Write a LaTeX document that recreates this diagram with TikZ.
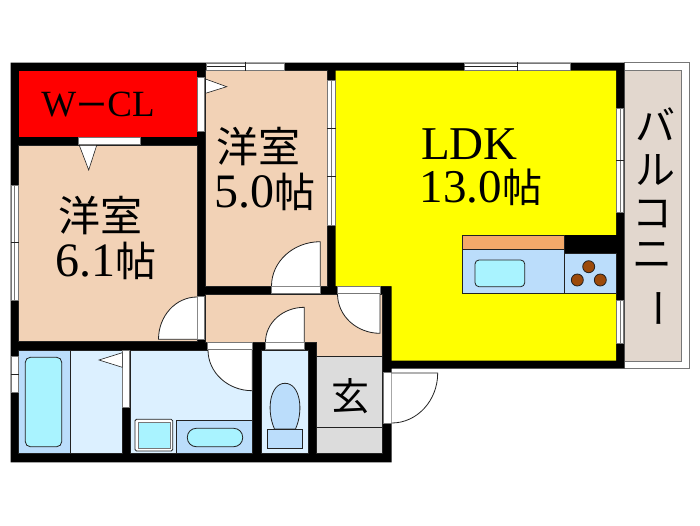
\documentclass[tikz,border=0pt]{standalone}
\usepackage{fontspec}
\usetikzlibrary{calc}
\setmainfont{Liberation Serif}
\newfontfamily\cjk{Noto Sans CJK JP}
\definecolor{ldkyellow}{HTML}{FFFF00}
\definecolor{clred}{HTML}{FF0000}
\definecolor{beige}{HTML}{F2D2B6}
\definecolor{pale}{HTML}{DCF0FF}
\definecolor{midblue}{HTML}{BBDDFB}
\definecolor{aqua}{HTML}{A9F3FF}
\definecolor{floorgray}{HTML}{DCDCDC}
\definecolor{balc}{HTML}{E2D7CE}
\definecolor{counter}{HTML}{F4A96A}
\definecolor{burner}{HTML}{9C4A0A}
\definecolor{edge}{HTML}{222222}
\definecolor{frame}{HTML}{777777}
\newcommand{\fs}[1]{\fontsize{#1}{#1}\selectfont}
\newcommand{\doorleaf}[6]{%
  \coordinate (h) at (#1,#2); \coordinate (a) at (#3,#4); \coordinate (b) at (#5,#6);
  \fill[white] (h) -- (a) .. controls ($(a)+0.5523*(b)-0.5523*(h)$) and ($(b)+0.5523*(a)-0.5523*(h)$) .. (b) -- cycle;
  \draw[doorline] (h) -- (a) .. controls ($(a)+0.5523*(b)-0.5523*(h)$) and ($(b)+0.5523*(a)-0.5523*(h)$) .. (b);}
\tikzset{
  x=1pt,y=-1pt,
  room/.style={draw=edge,line width=.5pt},
  opening/.style={draw=frame,fill=white,line width=.7pt},
  doorline/.style={draw=edge,line width=.8pt},
  fixture/.style={draw=edge,line width=.8pt},
  tri/.style={draw=edge,fill=white,line width=.6pt},
  label/.style={inner sep=0pt,align=center,text=black},
}
\begin{document}
\begin{tikzpicture}
\useasboundingbox (0,0) rectangle (700,525);
% balcony
\draw[frame,fill=white,line width=.8pt] (624,62.7) rectangle (689.3,368.7);
\filldraw[fill=balc,draw=frame,line width=.7pt] (624,70.7) rectangle (681.7,361);
% walls
\fill[black] (10.5,62.7) -- (624.3,62.7) -- (624.3,368.5) -- (391.7,368.5) -- (391.7,462.3) -- (10.5,462.3) -- cycle;
% rooms
\fill[clred] (18.7,70.7) rectangle (197,137.3);
\filldraw[room,fill=beige] (18.7,145) rectangle (197,341.7);
\filldraw[room,fill=beige] (205.5,70.7) rectangle (327,286);
\fill[ldkyellow] (335.7,70.7) -- (616,70.7) -- (616,360.7) -- (391.7,360.7) -- (391.7,286) -- (335.7,286) -- cycle;
\filldraw[room,fill=beige] (205,294) -- (382.5,294) -- (382.5,356) -- (316.7,356) -- (316.7,342) -- (205,342) -- cycle;
\filldraw[room,fill=floorgray] (316.7,356) rectangle (382.5,453.7);
\draw[room] (316.7,427.7) -- (382.5,427.7);
\filldraw[room,fill=midblue] (18.7,350) rectangle (70,453.7);
\filldraw[room,fill=pale] (70,350) rectangle (122.3,453.7);
\filldraw[room,fill=pale] (130.5,350) rectangle (252.3,453.7);
\filldraw[room,fill=pale] (261,350) rectangle (308.7,453.7);
% windows
\filldraw[opening] (206.7,62.9) rectangle (284,70.5);
\draw[edge,line width=.6pt] (245,61.5) -- (245,70.5) (206.7,66.5) -- (245,66.5);
\filldraw[opening] (464.3,62.9) rectangle (570.7,70.5);
\draw[edge,line width=.6pt] (517,61.5) -- (517,70.5) (464.3,66.5) -- (517,66.5);
\filldraw[opening] (327.6,80) rectangle (335,225);
\draw[frame,line width=.8pt] (331,80) -- (331,225);
\draw[edge,line width=.7pt] (327,128) -- (335.5,128) (327,176) -- (335.5,176);
\filldraw[opening] (616.5,108.3) rectangle (623.8,212.7);
\draw[frame,line width=.8pt] (620,108.3) -- (620,212.7);
\draw[edge,line width=.6pt] (616,160) -- (624,160);
\filldraw[opening] (616.5,300.7) rectangle (623.8,343.3);
\draw[frame,line width=.8pt] (620,300.7) -- (620,343.3);
\filldraw[opening] (11,185) rectangle (18.3,300);
\draw[frame,line width=.8pt] (14.5,185) -- (14.5,300);
\draw[edge,line width=.6pt] (10.5,242.7) -- (18.7,242.7);
\filldraw[opening] (11,356) rectangle (18.3,392.3);
\draw[edge,line width=.6pt] (10.5,374) -- (18.7,374);
% folding door openings
\filldraw[opening] (197.5,77) rectangle (204.5,131.7);
\filldraw[opening] (78,137.8) rectangle (140,144.6);
\filldraw[opening] (122.8,350.3) rectangle (129.8,407.7);
\filldraw[tri] (205.5,79) -- (205.5,93.3) -- (226.7,86.7) -- cycle;
\filldraw[tri] (79.3,145.3) -- (96.7,145.3) -- (88.7,170) -- cycle;
\filldraw[tri] (122.3,352.7) -- (122.3,367.3) -- (99,360) -- cycle;
% hinged door openings
\filldraw[opening] (271,286.4) rectangle (320,293.6);
\filldraw[opening] (197.6,296) rectangle (204.6,339.3);
\filldraw[opening] (337.3,286.6) rectangle (380,293.6);
\filldraw[opening] (207.7,342.5) rectangle (252,349.8);
\filldraw[opening] (265,342.5) rectangle (304.3,349.8);
\filldraw[opening] (383.3,372.7) rectangle (391.4,423.3);
\doorleaf{320.3}{286}{320.3}{241.7}{271.5}{286}
\doorleaf{197}{339.3}{158.5}{339.3}{197}{297}
\doorleaf{380}{294}{380}{333.3}{337.5}{294}
\doorleaf{252.3}{350}{252.3}{390.7}{208}{350}
\doorleaf{304.3}{342}{304.3}{307.3}{265.5}{342}
\doorleaf{391.7}{373}{437.7}{373}{391.7}{423}
% bath
\filldraw[fixture,fill=aqua,rounded corners=5pt] (25.3,357.3) rectangle (61.7,446.7);
% washer pan and basin
\filldraw[fixture,fill=white,rounded corners=1.5pt] (135,419.3) rectangle (172.7,451);
\filldraw[fixture,fill=aqua,draw=frame,line width=1pt] (138.3,422.7) rectangle (170,448);
\filldraw[room,fill=midblue] (176.7,420.7) rectangle (252.3,453.7);
\filldraw[fixture,fill=aqua,rounded corners=9pt] (187.3,428.3) rectangle (242.7,446.7);
% toilet
\filldraw[fixture,fill=midblue] (274.5,429) .. controls (266,410) and (270,383.3) .. (285,383.3) .. controls (300,383.3) and (304,410) .. (295.5,429) -- cycle;
\filldraw[fixture,fill=midblue] (267.3,429) rectangle (302.7,448.7);
% kitchen
\fill[black] (564,235.3) rectangle (616.5,253.3);
\filldraw[room,fill=counter] (462.3,235.3) rectangle (564,249.3);
\filldraw[room,fill=midblue] (462.3,249.3) rectangle (564,293.3);
\filldraw[room,fill=midblue] (564,253.3) rectangle (616,293.3);
\filldraw[fixture,fill=aqua,rounded corners=4pt] (475,260) rectangle (524.7,286.7);
\filldraw[fixture,fill=burner] (588.7,266.7) circle[radius=6];
\filldraw[fixture,fill=burner] (577.3,280) circle[radius=6];
\filldraw[fixture,fill=burner] (600.3,280) circle[radius=6];
% labels
\node[label] (wcl) at (98,105) {\fs{37}W{\cjk\fs{31}ー}CL};
\node[label] (r1a) at (100,216) {\cjk\fs{42}洋室};
\node[label] (r1b) at (105.5,261) {\fs{48}6.1{\cjk\fs{41}帖}};
\node[label] (r2a) at (258,147) {\cjk\fs{42}洋室};
\node[label] (r2b) at (265,192) {\fs{48}5.0{\cjk\fs{41}帖}};
\node[label] (ldka) at (469.5,144) {\fs{47}LDK};
\node[label] (ldkb) at (481,187) {\fs{47}13.0{\cjk\fs{40}帖}};
\node[label] (gen) at (350,396) {\cjk\fs{38}玄};
\node[label] (b1) at (655,124) {\cjk\fs{40}バ};
\node[label] (b2) at (655,170) {\cjk\fs{40}ル};
\node[label] (b3) at (652,214) {\cjk\fs{40}コ};
\node[label] (b4) at (652,255) {\cjk\fs{40}ニ};
\node[label,rotate=-90] (b5) at (652,308) {\cjk\fs{40}ー};
\end{tikzpicture}
\end{document}
